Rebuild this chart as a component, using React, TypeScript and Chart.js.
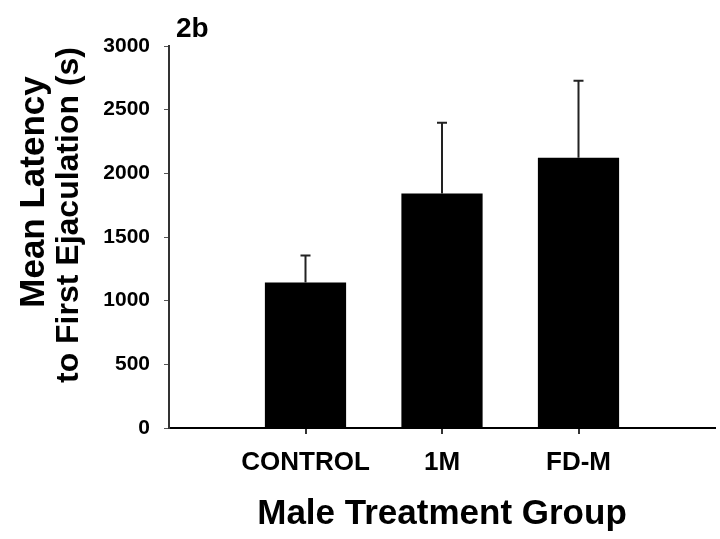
import React, { useEffect, useRef } from "react";
import { Chart, registerables } from "chart.js";

Chart.register(...registerables);

const categories = ["CONTROL", "1M", "FD-M"];
const means = [1143, 1842, 2122];
const sems = [212, 555, 605];
const yTicks = [0, 500, 1000, 1500, 2000, 2500, 3000];
const yTitleLines = ["Mean Latency", "to First Ejaculation (s)"];
const xTitle = "Male Treatment Group";
const panelLabel = "2b";

const FONT = "'Liberation Sans', Arial, sans-serif";

const errorBarPlugin = {
  id: "errorBars",
  afterDatasetsDraw(chart: any) {
    const ctx = chart.ctx;
    const meta = chart.getDatasetMeta(0);
    const yScale = chart.scales.y;
    ctx.save();
    ctx.strokeStyle = "#222";
    ctx.lineWidth = 2;
    meta.data.forEach((bar: any, i: number) => {
      const x = bar.x;
      const yTop = bar.y;
      const yErr = yScale.getPixelForValue(means[i] + sems[i]);
      ctx.beginPath();
      ctx.moveTo(x, yTop);
      ctx.lineTo(x, yErr);
      ctx.moveTo(x - 5, yErr);
      ctx.lineTo(x + 5, yErr);
      ctx.stroke();
    });
    ctx.restore();
  },
};

const textPlugin = {
  id: "extraText",
  afterDraw(chart: any) {
    const ctx = chart.ctx;
    ctx.save();
    ctx.fillStyle = "#000";
    ctx.textAlign = "center";
    ctx.textBaseline = "alphabetic";
    const lines = [
      { x: 44, y: 192, size: 35 },
      { x: 78, y: 215, size: 32 },
    ];
    yTitleLines.forEach((line, i) => {
      ctx.save();
      ctx.font = `bold ${lines[i].size}px ${FONT}`;
      ctx.translate(lines[i].x, lines[i].y);
      ctx.rotate(-Math.PI / 2);
      ctx.fillText(line, 0, 0);
      ctx.restore();
    });
    ctx.font = `bold 28px ${FONT}`;
    ctx.textAlign = "left";
    ctx.fillText(panelLabel, 176, 37);
    ctx.restore();
  },
};

export default function App() {
  const ref = useRef<HTMLCanvasElement>(null);
  useEffect(() => {
    if (!ref.current) return;
    const chart = new Chart(ref.current, {
      type: "bar",
      data: {
        datasets: [
          {
            data: means.map((m, i) => ({ x: i + 1, y: m })),
            backgroundColor: "#000",
            borderWidth: 0,
            categoryPercentage: 1,
            barPercentage: 0.595,
          },
        ],
      },
      options: {
        animation: false,
        responsive: true,
        maintainAspectRatio: false,
        layout: { padding: { top: 46, right: 5, left: 0, bottom: 0 } },
        plugins: {
          legend: { display: false },
          tooltip: { enabled: false },
        },
        scales: {
          x: {
            type: "linear",
            min: 0,
            max: categories.length + 1,
            offset: false,
            afterFit: (s: any) => {
              s.height = 111;
              s.paddingLeft = 0;
              s.paddingRight = 0;
            },
            afterBuildTicks: (s: any) => {
              s.ticks = Array.from({ length: categories.length + 2 }, (_, i) => ({ value: i }));
            },
            grid: {
              offset: false,
              drawOnChartArea: false,
              drawTicks: true,
              tickLength: 6,
              lineWidth: 2,
              color: (c: any) =>
                c.tick && c.tick.value >= 1 && c.tick.value <= categories.length ? "#333" : "rgba(0,0,0,0)",
            },
            border: { display: true, color: "#000", width: 2 },
            ticks: {
              autoSkip: false,
              maxRotation: 0,
              padding: 13,
              color: "#000",
              font: { family: FONT, size: 26, weight: "bold" },
              callback: (v: any) => categories[Number(v) - 1] ?? "",
            },
            title: {
              display: true,
              text: xTitle,
              color: "#000",
              font: { family: FONT, size: 35, weight: "bold" },
              padding: { top: 0, bottom: 4 },
            },
          },
          y: {
            min: yTicks[0],
            max: yTicks[yTicks.length - 1],
            afterFit: (s: any) => {
              s.width = 169;
            },
            afterBuildTicks: (s: any) => {
              s.ticks = yTicks.map((v) => ({ value: v }));
            },
            grid: {
              drawOnChartArea: false,
              drawTicks: true,
              tickLength: 5,
              color: "#555",
              lineWidth: 1,
            },
            border: { display: true, color: "#333", width: 2 },
            ticks: {
              padding: 14,
              color: "#000",
              font: { family: FONT, size: 21, weight: "bold" },
              callback: (v: any) => String(v),
            },
          },
        },
      },
      plugins: [errorBarPlugin, textPlugin],
    } as any);
    return () => chart.destroy();
  }, []);
  return (
    <div style={{ position: "fixed", left: 0, top: 0, width: 720, height: 539, background: "#fff" }}>
      <canvas ref={ref} />
    </div>
  );
}
